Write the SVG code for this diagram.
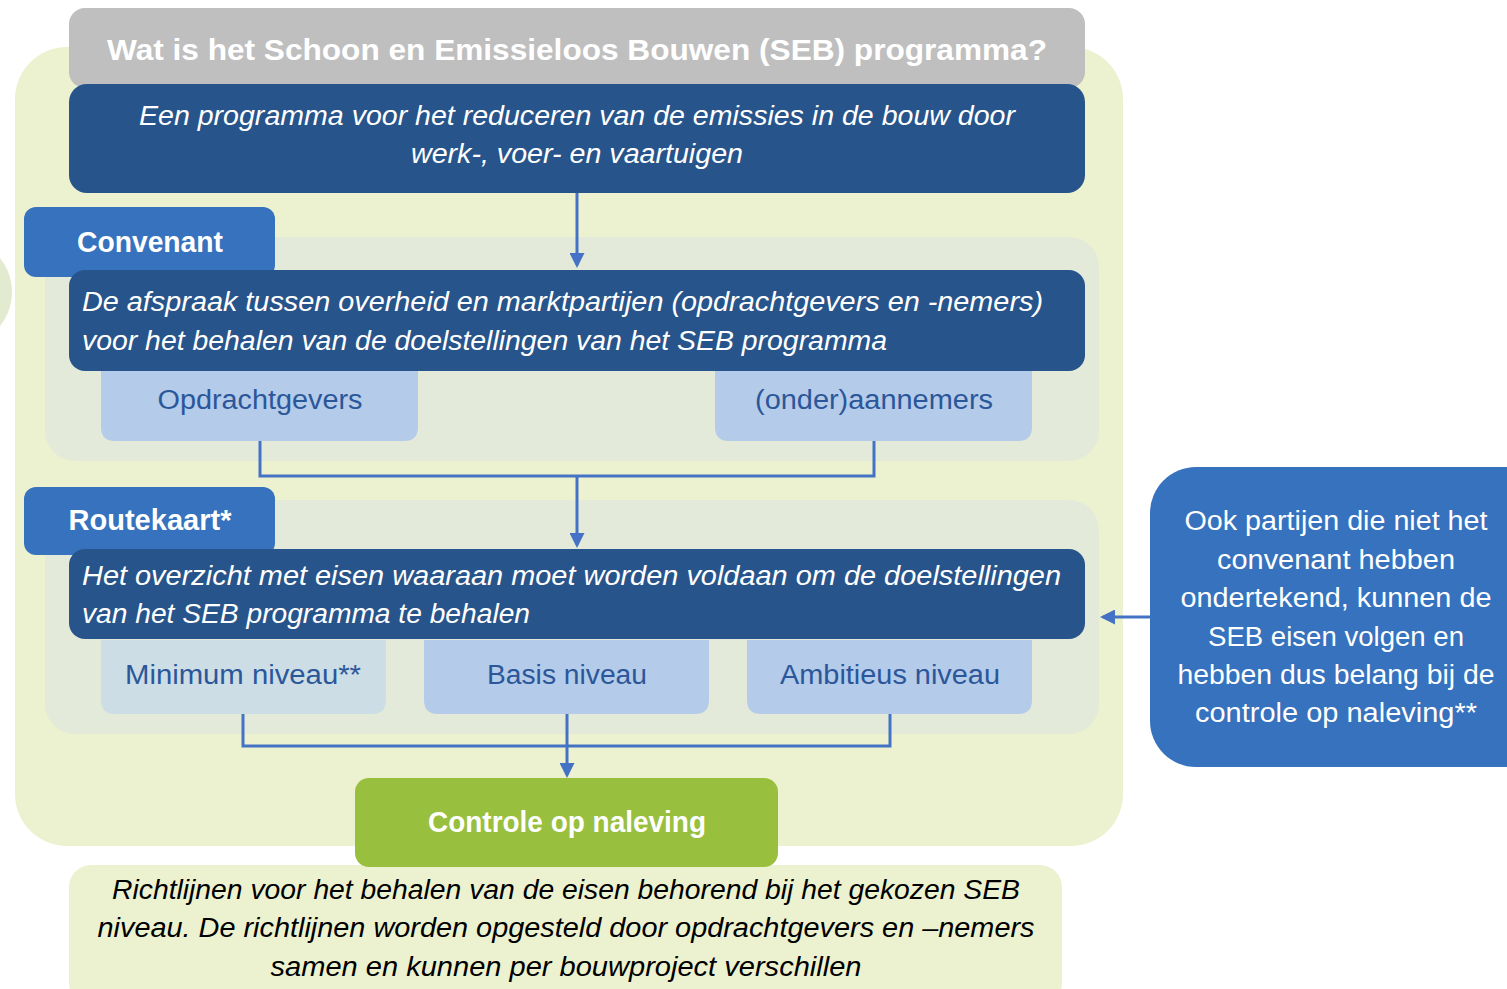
<svg xmlns="http://www.w3.org/2000/svg" width="1507" height="989" viewBox="0 0 1507 989">
<defs>
<style>
.t{font-family:"Liberation Sans",Arial,sans-serif;}
.hd{font-weight:bold;fill:#fff;font-size:29px;}
.it{font-style:italic;fill:#fff;font-size:27px;}
.itb{font-style:italic;fill:#000;font-size:27px;}
.lb{fill:#2B579A;font-size:27px;}
.rt{fill:#fff;font-size:27px;}
.dark{fill:#27548A;}
.lite{fill:#B4CBE9;}
.conn{fill:none;stroke:#4472C4;stroke-width:3;}
</style>
<marker id="ah" markerWidth="5" markerHeight="5" refX="4" refY="2.5" orient="auto" markerUnits="strokeWidth">
<path d="M0,0 L5,2.5 L0,5 z" fill="#4472C4"/>
</marker>
</defs>
<rect width="1507" height="989" fill="#fff"/>
<circle cx="-42" cy="292" r="54" fill="#E2EBCF"/>
<g id="outer"><rect x="15" y="47" width="1108" height="799" rx="52" fill="#ECF2CF"/></g>
<g id="panel-convenant"><rect x="45" y="237" width="1054" height="224" rx="30" fill="#E3EAD9"/></g>
<g id="panel-routekaart"><rect x="45" y="500" width="1054" height="234" rx="30" fill="#E3EAD9"/></g>

<g id="title">
<rect x="69" y="8" width="1016" height="80" rx="16" fill="#BFBFBF"/>
<text class="t hd" x="577" y="60" text-anchor="middle" textLength="940" lengthAdjust="spacingAndGlyphs">Wat is het Schoon en Emissieloos Bouwen (SEB) programma?</text>
</g>
<g id="seb">
<rect class="dark" x="69" y="84" width="1016" height="109" rx="18"/>
<text class="t it" x="577" y="125" text-anchor="middle" textLength="876" lengthAdjust="spacingAndGlyphs">Een programma voor het reduceren van de emissies in de bouw door</text>
<text class="t it" x="577" y="163" text-anchor="middle" textLength="332" lengthAdjust="spacingAndGlyphs">werk-, voer- en vaartuigen</text>
</g>

<g id="convenant-tab">
<rect x="24" y="207" width="251" height="70" rx="12" fill="#3672BD"/>
<text class="t hd" x="150" y="252" text-anchor="middle" font-size="27" textLength="146" lengthAdjust="spacingAndGlyphs">Convenant</text>
</g>
<g id="convenant">
<rect class="dark" x="69" y="270" width="1016" height="101" rx="16"/>
<text class="t it" x="82" y="311" textLength="961" lengthAdjust="spacingAndGlyphs">De afspraak tussen overheid en marktpartijen (opdrachtgevers en -nemers)</text>
<text class="t it" x="82" y="350" textLength="805" lengthAdjust="spacingAndGlyphs">voor het behalen van de doelstellingen van het SEB programma</text>
</g>
<g id="opdrachtgevers">
<path class="lite" d="M101,371 H418 V427 Q418,441 404,441 H115 Q101,441 101,427 Z"/>
<text class="t lb" x="260" y="409" text-anchor="middle" textLength="205" lengthAdjust="spacingAndGlyphs">Opdrachtgevers</text>
</g>
<g id="aannemers">
<path class="lite" d="M715,371 H1032 V427 Q1032,441 1018,441 H729 Q715,441 715,427 Z"/>
<text class="t lb" x="874" y="409" text-anchor="middle" textLength="238" lengthAdjust="spacingAndGlyphs">(onder)aannemers</text>
</g>

<g id="routekaart-tab">
<rect x="24" y="487" width="251" height="68" rx="12" fill="#3672BD"/>
<text class="t hd" x="150" y="530" text-anchor="middle" font-size="27" textLength="163" lengthAdjust="spacingAndGlyphs">Routekaart*</text>
</g>
<g id="routekaart">
<rect class="dark" x="69" y="549" width="1016" height="90" rx="16"/>
<text class="t it" x="82" y="585" textLength="979" lengthAdjust="spacingAndGlyphs">Het overzicht met eisen waaraan moet worden voldaan om de doelstellingen</text>
<text class="t it" x="82" y="623" textLength="448" lengthAdjust="spacingAndGlyphs">van het SEB programma te behalen</text>
</g>
<g id="minimum">
<path d="M101,640 H386 V700 Q386,714 372,714 H115 Q101,714 101,700 Z" fill="#CCDDE5"/>
<text class="t lb" x="243" y="684" text-anchor="middle" textLength="236" lengthAdjust="spacingAndGlyphs">Minimum niveau**</text>
</g>
<g id="basis">
<path class="lite" d="M424,640 H709 V700 Q709,714 695,714 H438 Q424,714 424,700 Z"/>
<text class="t lb" x="567" y="684" text-anchor="middle" textLength="160" lengthAdjust="spacingAndGlyphs">Basis niveau</text>
</g>
<g id="ambitieus">
<path class="lite" d="M747,640 H1032 V700 Q1032,714 1018,714 H761 Q747,714 747,700 Z"/>
<text class="t lb" x="890" y="684" text-anchor="middle" textLength="220" lengthAdjust="spacingAndGlyphs">Ambitieus niveau</text>
</g>

<g id="richtlijnen">
<rect x="69" y="865" width="993" height="140" rx="22" fill="#ECF2CF"/>
<text class="t itb" x="566" y="899" text-anchor="middle" textLength="908" lengthAdjust="spacingAndGlyphs">Richtlijnen voor het behalen van de eisen behorend bij het gekozen SEB</text>
<text class="t itb" x="566" y="937" text-anchor="middle" textLength="937" lengthAdjust="spacingAndGlyphs">niveau. De richtlijnen worden opgesteld door opdrachtgevers en –nemers</text>
<text class="t itb" x="566" y="976" text-anchor="middle" textLength="591" lengthAdjust="spacingAndGlyphs">samen en kunnen per bouwproject verschillen</text>
</g>
<g id="controle">
<rect x="355" y="778" width="423" height="89" rx="14" fill="#99BF3F"/>
<text class="t hd" x="567" y="832" text-anchor="middle" font-size="27" textLength="278" lengthAdjust="spacingAndGlyphs">Controle op naleving</text>
</g>

<g id="ook-partijen">
<rect x="1150" y="467" width="400" height="300" rx="46" fill="#3672BD"/>
<text class="t rt" x="1336" y="530" text-anchor="middle" textLength="303" lengthAdjust="spacingAndGlyphs">Ook partijen die niet het</text>
<text class="t rt" x="1336" y="569" text-anchor="middle" textLength="238" lengthAdjust="spacingAndGlyphs">convenant hebben</text>
<text class="t rt" x="1336" y="607" text-anchor="middle" textLength="311" lengthAdjust="spacingAndGlyphs">ondertekend, kunnen de</text>
<text class="t rt" x="1336" y="646" text-anchor="middle" textLength="256" lengthAdjust="spacingAndGlyphs">SEB eisen volgen en</text>
<text class="t rt" x="1336" y="684" text-anchor="middle" textLength="317" lengthAdjust="spacingAndGlyphs">hebben dus belang bij de</text>
<text class="t rt" x="1336" y="722" text-anchor="middle" textLength="282" lengthAdjust="spacingAndGlyphs">controle op naleving**</text>
</g>

<g id="connectors">
<path class="conn" d="M577,193 V265" marker-end="url(#ah)"/>
<path class="conn" d="M260,441 V476 H874 V441"/>
<path class="conn" d="M577,476 V545" marker-end="url(#ah)"/>
<path class="conn" d="M243,714 V746 H890 V714"/>
<path class="conn" d="M567,714 V775" marker-end="url(#ah)"/>
<path class="conn" d="M1150,617 H1103" marker-end="url(#ah)"/>
</g>
</svg>
